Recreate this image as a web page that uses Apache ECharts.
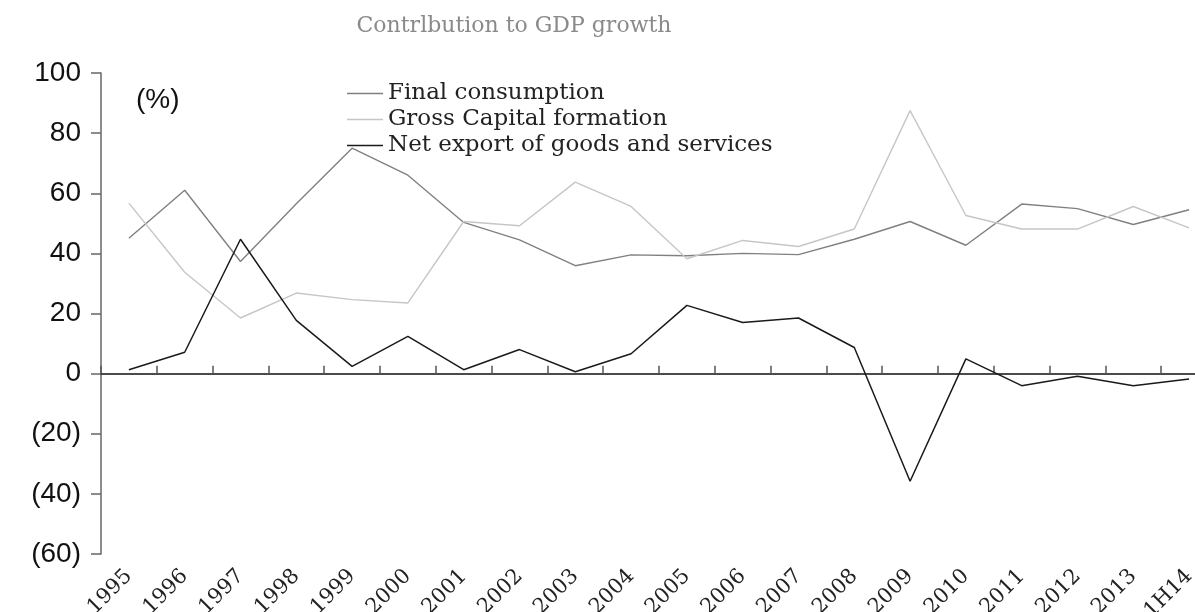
<!DOCTYPE html>
<html>
<head>
<meta charset="utf-8">
<script src="https://cdn.jsdelivr.net/npm/echarts@6/dist/echarts.min.js"></script>
<style>
  html, body { margin: 0; padding: 0; background: #fff; }
  #chart { width: 1195px; height: 612px; }
</style>
</head>
<body>
<div id="chart"></div>
<script>
// Contribution to GDP growth by component, %
const categories = ['1995','1996','1997','1998','1999','2000','2001','2002','2003','2004',
                    '2005','2006','2007','2008','2009','2010','2011','2012','2013','1H14'];
const finalConsumption = [45, 61, 37.3, 56.5, 75, 66, 50.3, 44.5, 35.9, 39.5,
                          39.2, 40, 39.6, 44.7, 50.6, 42.7, 56.4, 54.9, 49.6, 54.5];
const grossCapital = [56.7, 33.7, 18.5, 26.8, 24.6, 23.5, 50.6, 49.2, 63.7, 55.6,
                      38.2, 44.3, 42.3, 48.1, 87.5, 52.6, 48.1, 48.1, 55.6, 48.5];
const netExport = [1.3, 7.1, 44.7, 17.7, 2.4, 12.4, 1.3, 8, 0.6, 6.6,
                   22.7, 17, 18.5, 8.7, -35.8, 4.9, -4, -0.9, -4, -1.8];
const seriesNames = ['Final consumption', 'Gross Capital formation', 'Net export of goods and services'];

const serif = 'DejaVu Serif';
const sans = 'Liberation Sans';

const chart = echarts.init(document.getElementById('chart'), null, { renderer: 'canvas' });

chart.setOption({
  animation: false,
  backgroundColor: '#ffffff',
  title: {
    text: 'Contrlbution to GDP growth',
    left: 509,
    textAlign: 'center',
    top: 10,
    textStyle: { fontFamily: serif, fontWeight: 'normal', fontSize: 22, color: '#8a8a8a' }
  },
  legend: {
    data: seriesNames,
    orient: 'vertical',
    left: 342,
    top: 77,
    icon: 'rect',
    itemWidth: 36,
    itemHeight: 1.5,
    itemGap: 3,
    textStyle: { fontFamily: serif, fontSize: 23, color: '#222' }
  },
  graphic: [{
    type: 'text',
    left: 136,
    top: 86,
    style: { text: '(%)', font: '28px "Liberation Sans"', fill: '#111' }
  }],
  // the plot runs past the right edge of the canvas, so the last band is cut off
  grid: { left: 101, width: 1116, top: 73, bottom: 58, containLabel: false, outerBoundsMode: 'none' },
  xAxis: [{
    type: 'category',
    data: categories,
    position: 'bottom',
    boundaryGap: true,
    axisLine: { show: false, onZero: false },
    axisTick: { show: false },
    axisLabel: {
      interval: 0,
      rotate: 45,
      margin: 19,
      fontFamily: serif,
      fontSize: 21,
      color: '#222'
    }
  }, {
    type: 'category',
    data: categories,
    position: 'bottom',
    boundaryGap: true,
    axisLine: { show: true, onZero: true, lineStyle: { color: '#111', width: 1.5 } },
    axisTick: { show: true, inside: true, length: 8, interval: 0, lineStyle: { color: '#555', width: 1.5 } },
    axisLabel: { show: false }
  }],
  yAxis: {
    type: 'value',
    min: -60,
    max: 100,
    interval: 20,
    axisLine: { show: true, lineStyle: { color: '#666', width: 1.5 } },
    axisTick: { show: true, length: 10, lineStyle: { color: '#666', width: 1.5 } },
    splitLine: { show: false },
    axisLabel: {
      margin: 20,
      fontFamily: sans,
      fontSize: 28,
      color: '#111',
      formatter: v => v < 0 ? '(' + Math.abs(v) + ')' : String(v)
    }
  },
  series: [{
    name: seriesNames[0],
    type: 'line',
    xAxisIndex: 0,
    data: finalConsumption,
    showSymbol: false,
    color: '#808080',
    lineStyle: { color: '#808080', width: 1.4 }
  }, {
    name: seriesNames[1],
    type: 'line',
    xAxisIndex: 0,
    data: grossCapital,
    showSymbol: false,
    color: '#c6c6c6',
    lineStyle: { color: '#c6c6c6', width: 1.4 }
  }, {
    name: seriesNames[2],
    type: 'line',
    xAxisIndex: 0,
    data: netExport,
    showSymbol: false,
    color: '#1a1a1a',
    lineStyle: { color: '#1a1a1a', width: 1.5 }
  }]
});
</script>
</body>
</html>
